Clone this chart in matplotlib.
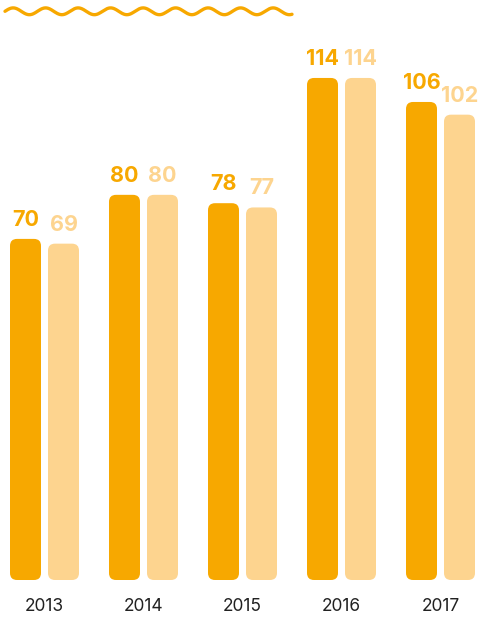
import matplotlib
matplotlib.use("Agg")
import matplotlib.pyplot as plt
import numpy as np
from matplotlib.patches import FancyBboxPatch

years = ["2013", "2014", "2015", "2016", "2017"]
series_a = [70, 80, 78, 114, 106]
series_b = [69, 80, 77, 114, 102]

DARK = "#F7A800"
LIGHT = "#FDD48F"

W, H = 478, 617
fig = plt.figure(figsize=(W / 100, H / 100), dpi=100)

# the original bars follow a compressed (log-like) scale with a raised floor
base = 24.9
ytop = 160
px_per_decade = 330 * np.log(10)
bottom_px = 37
ax_h = (np.log10(ytop) - np.log10(base)) * px_per_decade
ax = fig.add_axes([-5 / W, bottom_px / H, 495 / W, ax_h / H])
ax.set_yscale("log")
ax.set_xlim(-0.5, len(years) - 0.5)
ax.set_ylim(base, ytop)
ax.axis("off")

bar_w = 31 / 99
offset = 19 / 99
r_px = 7

for i, (a, b) in enumerate(zip(series_a, series_b)):
    for val, dx, col in [(a, -offset, DARK), (b, offset, LIGHT)]:
        x0 = i + dx - bar_w / 2
        # build the rounded bar in pixel space, then map back to data
        (px0, py0), (px1, py1) = ax.transData.transform([(x0, base), (x0 + bar_w, val)])
        inv = fig.transFigure.inverted()
        patch = FancyBboxPatch((px0, py0), px1 - px0, py1 - py0,
                               boxstyle=f"round,pad=0,rounding_size={r_px}",
                               fc=col, ec="none", transform=None)
        fig.patches.append(patch)
        ax.annotate(str(val), (i + dx, val), xytext=(0, 6.5), textcoords="offset points",
                    ha="center", va="bottom", fontsize=15.5, fontweight="bold",
                    color=col, family="Inter")
    ax.annotate(years[i], (i, base), xytext=(0, -13), textcoords="offset points",
                ha="center", va="top", fontsize=12.5, color="#222222", family="Inter")

# wavy decoration at the top
deco = fig.add_axes([0, 0, 1, 1])
deco.set_xlim(0, W)
deco.set_ylim(H, 0)
deco.axis("off")
xs = np.linspace(5, 292, 600)
deco.plot(xs, 11.3 - 3.4 * np.sin(2 * np.pi * (xs - 5) / 32.5), color=DARK, lw=2.4,
          solid_capstyle="round")

fig.savefig("out.png", dpi=100)
